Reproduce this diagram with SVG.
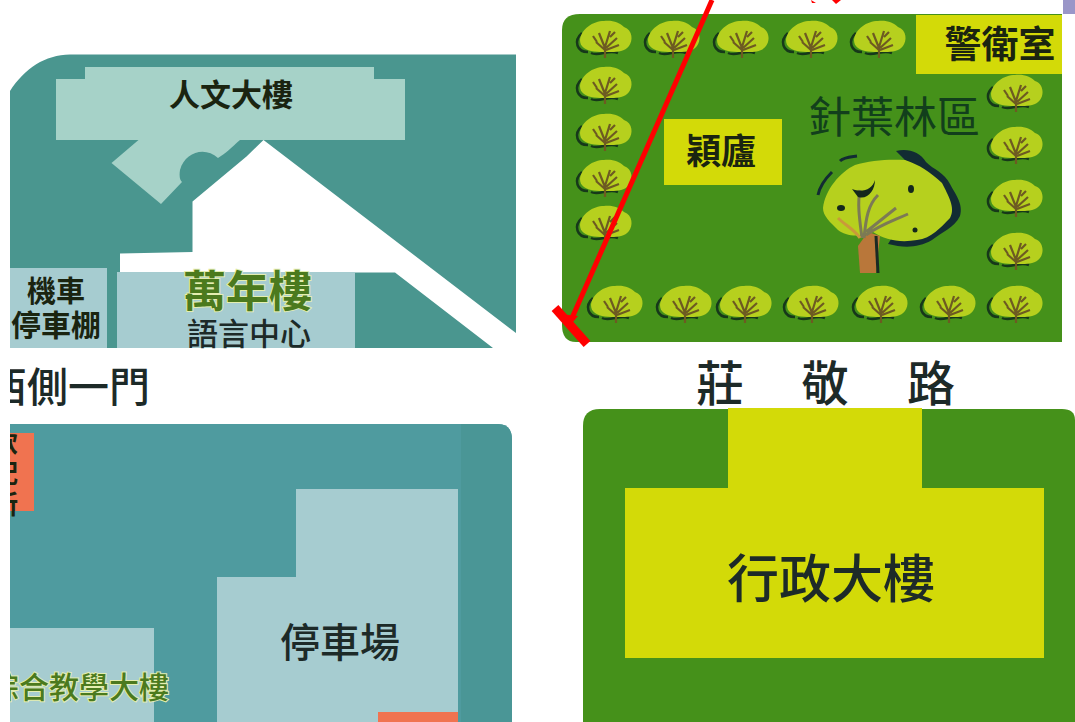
<svg xmlns="http://www.w3.org/2000/svg" width="1075" height="722" viewBox="0 0 1075 722">
<style>
text{font-family:"Noto Sans CJK TC","Noto Sans CJK SC",sans-serif;text-anchor:middle;fill:#1d2a28;font-weight:500}
.teal{fill:#4a968f}.teal2{fill:#4f9b9f}.pale{fill:#a6ccd0}.mint{fill:#a6d2c8}.grass{fill:#45911a}.lime{fill:#d3da08}.coral{fill:#f07350}
.g{fill:#4b7a1e;stroke:#e4eeb0;stroke-width:2;paint-order:stroke}
.b{font-weight:700;fill:#1a2410}
</style>
<defs>
<clipPath id="c"><rect x="10" y="0" width="1065" height="722"/></clipPath>
<g id="tree">
<path d="M-22 -6C-31 2 -27 13 -16 13M-13 14C-5 18 4 10 14 14" fill="none" stroke="#16381a" stroke-width="2.500"/>
<path d="M-24 1C-23 -10 -11 -18 0 -18C9 -19 16 -16 20 -12C29 -9 29 2 25 7C20 14 9 13 3 13C-6 13 -15 13 -20 9C-23 7 -24 4 -24 1Z" fill="#b6d01e"/>
<path d="M1 19L1 6M1 11L-8 3M1 9L-5 -6M1 8L6 -8M2 9L13 -1M2 11L15 6M-7 3L-11 -3M6 -2L11 -7" fill="none" stroke="#6d5a22" stroke-width="2.200"/>
</g>
</defs>
<rect width="1075" height="722" fill="#fff"/>
<g id="humanities-area">
<path class="teal" d="M10 91C25 68 45 55 70 54.500L516 54.500L516 333L263.500 140L246.500 156.500L192.500 201.500L192.500 252L120 253.500L120 272.500L395 272.500L493 348L10 348Z"/>
<path class="mint" d="M56 79L85 79L85 67L374 67L374 79L405 79L405 140L240 140C232 147 225 154 218 158C205 146 185 152 180 170C179 177 180 180 182 182L161 204L111.500 163L138.500 140L56 140Z"/>
<text x="231" y="106" font-size="31" class="b">人文大樓</text>
</g>
<g id="motorcycle-shed">
<rect class="pale" x="10" y="268" width="97" height="80"/>
<text x="56" y="302" font-size="29" class="b">機車</text>
<text x="56" y="336" font-size="30" class="b" clip-path="url(#c)">停車棚</text>
</g>
<g id="wannian">
<rect class="pale" x="117" y="272" width="238" height="76"/>
<text class="g" x="247.500" y="307" font-size="43" style="font-weight:700">萬年樓</text>
<text x="249" y="345" font-size="31">語言中心</text>
</g>
<g id="west-gate"><text x="68" y="402" font-size="41" clip-path="url(#c)">西側一門</text></g>
<g id="zhuangjing-road">
<text x="720" y="401" font-size="48">莊</text><text x="825" y="401" font-size="48">敬</text><text x="931" y="401" font-size="48">路</text>
</g>
<g id="needle-forest">
<path class="grass" d="M562 30Q562 14 580 14L1062 14L1062 342L576 342Q562 342 562 325Z"/>
<rect class="lime" x="916" y="15" width="146" height="59"/>
<text x="1000" y="58" font-size="37" class="b">警衛室</text>
<rect class="lime" x="664" y="119" width="118" height="66"/>
<text x="721" y="164" font-size="35" class="b">穎廬</text>
<text x="894" y="133" font-size="43" style="fill:#123f1c;font-weight:400">針葉林區</text>
<g id="big-tree">
<path d="M818 195C820 185 826 178 832 172M840 161C844 157 850 157 857 156" fill="none" stroke="#122c33" stroke-width="3"/>
<path d="M896 151C908 148 920 152 926 162C934 170 944 172 950 184C954 192 964 204 960 216C954 228 942 232 932 240C918 248 904 248 888 244L900 225L930 180L905 160Z" fill="#122c33"/>
<path d="M823 208C825 190 840 172 855 165C870 160 890 159 905 160C920 165 930 172 942 183C948 195 956 208 950 218C940 228 932 238 917 240C900 243 885 240 873 232C860 238 845 236 838 230C830 222 823 216 823 208Z" fill="#b6d01e"/>
<path d="M860 273L858 246L868 232L880 236L876 273Z" fill="#b9773a"/>
<path d="M876 236L878 273" stroke="#1a2a24" stroke-width="3"/>
<path d="M862 238C860 222 857 205 860 190M864 238C866 218 868 205 878 195M866 235C880 225 890 222 908 214M866 232L896 208" fill="none" stroke="#7c7a55" stroke-width="3"/>
<path d="M860 238C855 230 845 225 838 218" fill="none" stroke="#c99a3a" stroke-width="3"/>
<path d="M852 189C862 193 872 190 875 180C875 190 868 200 858 197Z" fill="#14281c"/>
<ellipse cx="841" cy="208" rx="4" ry="3" fill="#14281c"/><ellipse cx="911" cy="189" rx="3" ry="4" fill="#14281c"/><ellipse cx="915" cy="230" rx="2.500" ry="2.500" fill="#14281c"/>
</g>
<g id="small-trees">
<use href="#tree" x="604" y="39"/><use href="#tree" x="672" y="39"/><use href="#tree" x="741" y="39"/><use href="#tree" x="810" y="39"/><use href="#tree" x="878" y="39"/>
<use href="#tree" x="604" y="85"/><use href="#tree" x="604" y="132"/><use href="#tree" x="604" y="178"/><use href="#tree" x="604" y="224"/>
<use href="#tree" x="1015" y="93"/><use href="#tree" x="1015" y="145"/><use href="#tree" x="1015" y="198"/><use href="#tree" x="1015" y="251"/>
<use href="#tree" x="615" y="304"/><use href="#tree" x="684" y="304"/><use href="#tree" x="744" y="304"/><use href="#tree" x="811" y="304"/><use href="#tree" x="880" y="304"/><use href="#tree" x="948" y="304"/><use href="#tree" x="1015" y="304"/>
</g>
</g>
<g id="parking-area">
<path class="teal2" d="M10 424L498 424Q512 424 512 440L512 722L10 722Z"/>
<path d="M461 424L498 424Q512 424 512 440L512 722L461 722Z" fill="#4a9696"/>
<rect class="coral" x="10" y="433" width="24" height="78"/>
<text font-size="26" clip-path="url(#c)" class="b"><tspan x="5" y="452">飲</tspan><tspan x="5" y="483">配</tspan><tspan x="5" y="514">所</tspan></text>
<path class="pale" d="M296 489L458 489L458 722L217 722L217 577L296 577Z"/>
<rect class="coral" x="378" y="712" width="80" height="10"/>
<text x="340" y="657" font-size="40">停車場</text>
<rect class="pale" x="10" y="628" width="144" height="94"/>
<text class="g" x="79" y="698" font-size="30" clip-path="url(#c)">綜合教學大樓</text>
</g>
<g id="admin">
<path class="grass" d="M583 426Q583 409 600 409L1062 409Q1075 409 1075 420L1075 722L583 722Z"/>
<path class="lime" d="M728 408L922 408L922 488L1044 488L1044 658L625 658L625 488L728 488Z"/>
<text x="831" y="598" font-size="52">行政大樓</text>
</g>
<g id="connectors">
<line x1="712" y1="0" x2="572" y2="318" stroke="#ff0000" stroke-width="5"/>
<line x1="555" y1="308" x2="587" y2="344" stroke="#ff0000" stroke-width="9"/>
<path d="M578 316L568 328L560 314Z" fill="#ff0000"/>
<path d="M811 0L816 3L812 3ZM832 0L841 0L836 4Z" fill="#ff0000"/>
</g>
<rect x="1063" y="0" width="12" height="14" fill="#9a96c8"/>
</svg>
